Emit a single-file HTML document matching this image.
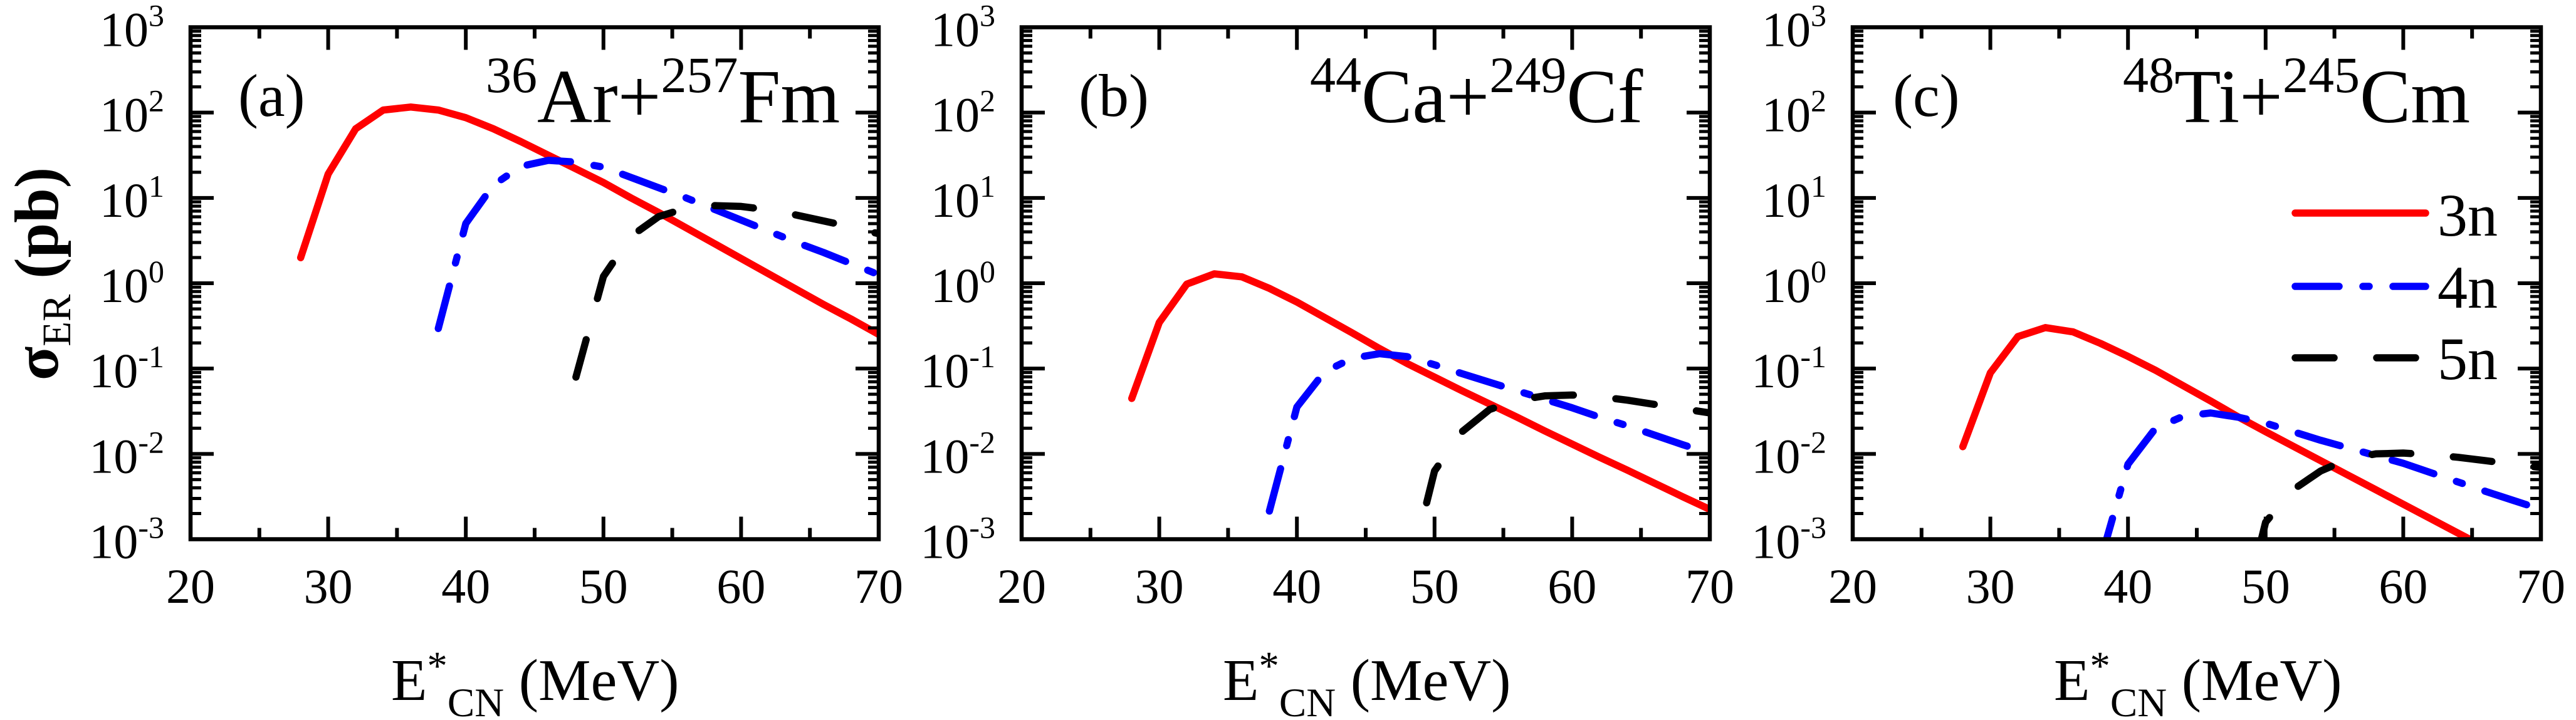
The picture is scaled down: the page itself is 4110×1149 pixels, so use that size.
<!DOCTYPE html>
<html><head><meta charset="utf-8"><style>
html,body{margin:0;padding:0;background:#fff;}
svg{display:block;}
svg text, svg tspan{font-family:"Liberation Serif","Times New Roman",serif;fill:#000;}
</style></head><body>
<svg xmlns="http://www.w3.org/2000/svg" width="4110" height="1149" viewBox="0 0 4110 1149" font-family="Liberation Serif, serif">
<rect x="0" y="0" width="4110" height="1149" fill="#fff"/>
<defs>
<clipPath id="pc"><rect x="0" y="43.5" width="1098" height="817"/></clipPath>
<g id="ax">
<rect x="0" y="43.5" width="1098" height="817" fill="none" stroke="#000" stroke-width="6.5"/>
<path fill="none" stroke="#000" stroke-width="6" d="M0 179.67h37M1061 179.67h37M0 315.84h37M1061 315.84h37M0 452.01h37M1061 452.01h37M0 588.18h37M1061 588.18h37M0 724.35h37M1061 724.35h37
M219.6 860.5v-36M439.2 860.5v-36M658.8 860.5v-36M878.4 860.5v-36M219.6 43.5v36M439.2 43.5v36M658.8 43.5v36M878.4 43.5v36
M109.8 860.5v-18M329.4 860.5v-18M549 860.5v-18M768.6 860.5v-18M988.2 860.5v-18M109.8 43.5v18M329.4 43.5v18M549 43.5v18M768.6 43.5v18M988.2 43.5v18"/>
<path fill="none" stroke="#000" stroke-width="5" d="
M0 819.53h17M1081 819.53h17M0 795.55h17M1081 795.55h17M0 778.54h17M1081 778.54h17M0 765.34h17M1081 765.34h17M0 754.56h17M1081 754.56h17M0 745.44h17M1081 745.44h17M0 737.55h17M1081 737.55h17M0 730.58h17M1081 730.58h17
M0 683.36h17M1081 683.36h17M0 659.38h17M1081 659.38h17M0 642.37h17M1081 642.37h17M0 629.17h17M1081 629.17h17M0 618.39h17M1081 618.39h17M0 609.27h17M1081 609.27h17M0 601.38h17M1081 601.38h17M0 594.41h17M1081 594.41h17
M0 547.19h17M1081 547.19h17M0 523.21h17M1081 523.21h17M0 506.2h17M1081 506.2h17M0 493h17M1081 493h17M0 482.22h17M1081 482.22h17M0 473.1h17M1081 473.1h17M0 465.21h17M1081 465.21h17M0 458.24h17M1081 458.24h17
M0 411.02h17M1081 411.02h17M0 387.04h17M1081 387.04h17M0 370.03h17M1081 370.03h17M0 356.83h17M1081 356.83h17M0 346.05h17M1081 346.05h17M0 336.93h17M1081 336.93h17M0 329.04h17M1081 329.04h17M0 322.07h17M1081 322.07h17
M0 274.85h17M1081 274.85h17M0 250.87h17M1081 250.87h17M0 233.86h17M1081 233.86h17M0 220.66h17M1081 220.66h17M0 209.88h17M1081 209.88h17M0 200.76h17M1081 200.76h17M0 192.87h17M1081 192.87h17M0 185.9h17M1081 185.9h17
M0 138.68h17M1081 138.68h17M0 114.7h17M1081 114.7h17M0 97.69h17M1081 97.69h17M0 84.49h17M1081 84.49h17M0 73.71h17M1081 73.71h17M0 64.59h17M1081 64.59h17M0 56.7h17M1081 56.7h17M0 49.73h17M1081 49.73h17"/>
</g>
</defs>

<!-- ===== Panel (a) ===== -->
<g transform="translate(304,0)">
<g clip-path="url(#pc)" fill="none" stroke-width="11.5" stroke-linejoin="round">
<path stroke="#ff0000" stroke-linecap="round" d="M175.7,411.2 L219.6,277.7 L263.5,205.5 L307.4,175.6 L351.4,170.8 L395.3,175.6 L439.2,187.8 L483.1,205.5 L527,226 L571,247.8 L614.9,269.5 L658.8,291.3 L702.7,315.8 L746.6,339 L790.6,363.5 L834.5,388 L878.4,412.5 L922.3,437 L966.2,461.5 L1010.2,486 L1054.1,509.2 L1098,533.7"/>
<path stroke="#0000ff" stroke-linecap="round" stroke-dasharray="70 38 10 38" d="M395.3,524.2 L439.2,356.7 L483.1,295.4 L527,265.4 L571,255.9 L614.9,258.6 L658.8,266.8 L702.7,283.1 L746.6,299.5 L790.6,315.8 L834.5,333.5 L878.4,351.2 L922.3,368.9 L966.2,386.6 L1010.2,403 L1054.1,420.7 L1098,438.4"/>
<path stroke="#000" stroke-linecap="round" stroke-dasharray="62 68" d="M614.9,601.8 L658.8,441.1 L702.7,377.1 L746.6,345.8 L790.6,332.2 L834.5,328.1 L878.4,329.4 L922.3,334.9 L966.2,343.1 L1010.2,352.6 L1054.1,362.1 L1098,373"/>
</g>
<use href="#ax"/>
<text x="76" y="185" font-size="96" font-family="Liberation Serif, serif">(a)</text>
<text x="471" y="195" font-size="122" font-family="Liberation Serif, serif"><tspan font-size="82" dy="-48">36</tspan><tspan dy="48">Ar+</tspan><tspan font-size="82" dy="-48">257</tspan><tspan dy="48">Fm</tspan></text>
<g font-size="78" text-anchor="end" font-family="Liberation Serif, serif">
<text x="-42" y="73.5">10<tspan font-size="50" dy="-32">3</tspan></text>
<text x="-42" y="209.7">10<tspan font-size="50" dy="-32">2</tspan></text>
<text x="-42" y="345.8">10<tspan font-size="50" dy="-32">1</tspan></text>
<text x="-42" y="482">10<tspan font-size="50" dy="-32">0</tspan></text>
<text x="-42" y="618.2">10<tspan font-size="50" dy="-32">-1</tspan></text>
<text x="-42" y="754.4">10<tspan font-size="50" dy="-32">-2</tspan></text>
<text x="-42" y="890.5">10<tspan font-size="50" dy="-32">-3</tspan></text>
</g>
<g font-size="78" text-anchor="middle" font-family="Liberation Serif, serif">
<text x="0" y="962">20</text><text x="219.6" y="962">30</text><text x="439.2" y="962">40</text><text x="658.8" y="962">50</text><text x="878.4" y="962">60</text><text x="1098" y="962">70</text>
</g>
<text x="320" y="1117" font-size="94" font-family="Liberation Serif, serif">E<tspan font-size="65" dy="-33">*</tspan><tspan font-size="65" dy="59">CN</tspan><tspan dy="-26"> (MeV)</tspan></text>
</g>

<!-- y axis title -->
<text transform="translate(92,437) rotate(-90)" text-anchor="middle" font-size="100" font-weight="bold" font-family="Liberation Serif, serif">σ<tspan font-size="65" font-weight="normal" dy="20">ER</tspan><tspan dy="-20"> (pb)</tspan></text>

<!-- ===== Panel (b) ===== -->
<g transform="translate(1630,0)">
<g clip-path="url(#pc)" fill="none" stroke-width="11.5" stroke-linejoin="round">
<path stroke="#ff0000" stroke-linecap="round" d="M175.7,635.8 L219.6,514.6 L263.5,453.4 L307.4,437 L351.4,441.8 L395.3,460.2 L439.2,482 L483.1,506.5 L527,531 L571,556.2 L614.9,580 L658.8,601.8 L702.7,623.6 L746.6,644.7 L790.6,665.8 L834.5,687.6 L878.4,708.7 L922.3,729.8 L966.2,750.2 L1010.2,771.3 L1054.1,792.4 L1098,812.9"/>
<path stroke="#0000ff" stroke-linecap="round" stroke-dasharray="70 38 10 38" d="M395.3,815.6 L439.2,649.5 L483.1,593.6 L527,571.8 L571,564.4 L614.9,569.1 L658.8,582.1 L702.7,596.3 L746.6,610 L790.6,623.6 L834.5,637.2 L878.4,650.8 L922.3,665.8 L966.2,679.4 L1010.2,694.4 L1054.1,709.4 L1098,723.7"/>
<path stroke="#000" stroke-linecap="round" stroke-dasharray="62 68" d="M614.9,928.6 L658.8,751.6 L702.7,688.9 L746.6,653.5 L790.6,638.6 L834.5,631.8 L878.4,630.4 L922.3,633.1 L966.2,638.6 L1010.2,645.4 L1054.1,652.2 L1098,659"/>
</g>
<use href="#ax"/>
<text x="91" y="185" font-size="96" font-family="Liberation Serif, serif">(b)</text>
<text x="460" y="195" font-size="122" font-family="Liberation Serif, serif"><tspan font-size="82" dy="-48">44</tspan><tspan dy="48">Ca+</tspan><tspan font-size="82" dy="-48">249</tspan><tspan dy="48">Cf</tspan></text>
<g font-size="78" text-anchor="end" font-family="Liberation Serif, serif">
<text x="-42" y="73.5">10<tspan font-size="50" dy="-32">3</tspan></text>
<text x="-42" y="209.7">10<tspan font-size="50" dy="-32">2</tspan></text>
<text x="-42" y="345.8">10<tspan font-size="50" dy="-32">1</tspan></text>
<text x="-42" y="482">10<tspan font-size="50" dy="-32">0</tspan></text>
<text x="-42" y="618.2">10<tspan font-size="50" dy="-32">-1</tspan></text>
<text x="-42" y="754.4">10<tspan font-size="50" dy="-32">-2</tspan></text>
<text x="-42" y="890.5">10<tspan font-size="50" dy="-32">-3</tspan></text>
</g>
<g font-size="78" text-anchor="middle" font-family="Liberation Serif, serif">
<text x="0" y="962">20</text><text x="219.6" y="962">30</text><text x="439.2" y="962">40</text><text x="658.8" y="962">50</text><text x="878.4" y="962">60</text><text x="1098" y="962">70</text>
</g>
<text x="321" y="1117" font-size="94" font-family="Liberation Serif, serif">E<tspan font-size="65" dy="-33">*</tspan><tspan font-size="65" dy="59">CN</tspan><tspan dy="-26"> (MeV)</tspan></text>
</g>

<!-- ===== Panel (c) ===== -->
<g transform="translate(2956,0)">
<g clip-path="url(#pc)" fill="none" stroke-width="11.5" stroke-linejoin="round">
<path stroke="#ff0000" stroke-linecap="round" d="M175.7,712.8 L219.6,595 L263.5,537.1 L307.4,522.8 L351.4,529.6 L395.3,548 L439.2,568.7 L483.1,590.9 L527,615.4 L571,639.9 L614.9,665.2 L658.8,688.9 L702.7,712.1 L746.6,735.2 L790.6,758.4 L834.5,781.5 L878.4,804.7 L922.3,827.8 L966.2,851 L1010.2,874.1 L1054.1,897.3 L1098,920.4"/>
<path stroke="#0000ff" stroke-linecap="round" stroke-dasharray="70 38 10 38" d="M395.3,894.6 L439.2,740.7 L483.1,683.5 L527,664.4 L571,659 L614.9,665.8 L658.8,675.3 L702.7,688.9 L746.6,702.6 L790.6,714.8 L834.5,727.1 L878.4,739.3 L922.3,754.3 L966.2,769.3 L1010.2,784.3 L1054.1,798.6 L1098,812.9"/>
<path stroke="#000" stroke-linecap="round" stroke-dasharray="62 68" d="M614.9,1010.3 L658.8,833.3 L702.7,781.5 L746.6,751.6 L790.6,732.5 L834.5,724.3 L878.4,723 L922.3,725.7 L966.2,729.8 L1010.2,735.2 L1054.1,740.7 L1098,746.1"/>
</g>
<use href="#ax"/>
<text x="64" y="185" font-size="96" font-family="Liberation Serif, serif">(c)</text>
<text x="431" y="195" font-size="122" font-family="Liberation Serif, serif"><tspan font-size="82" dy="-48">48</tspan><tspan dy="48">Ti+</tspan><tspan font-size="82" dy="-48">245</tspan><tspan dy="48">Cm</tspan></text>
<!-- legend -->
<g fill="none" stroke-width="11.5" stroke-linecap="round">
<line x1="706" y1="340" x2="914" y2="340" stroke="#ff0000"/>
<line x1="706" y1="457" x2="914" y2="457" stroke="#0000ff" stroke-dasharray="70 38 10 38"/>
<line x1="706" y1="571" x2="914" y2="571" stroke="#000" stroke-dasharray="62 68"/>
</g>
<g font-size="96" font-family="Liberation Serif, serif">
<text x="933" y="376">3n</text>
<text x="933" y="491">4n</text>
<text x="933" y="605">5n</text>
</g>
<g font-size="78" text-anchor="end" font-family="Liberation Serif, serif">
<text x="-42" y="73.5">10<tspan font-size="50" dy="-32">3</tspan></text>
<text x="-42" y="209.7">10<tspan font-size="50" dy="-32">2</tspan></text>
<text x="-42" y="345.8">10<tspan font-size="50" dy="-32">1</tspan></text>
<text x="-42" y="482">10<tspan font-size="50" dy="-32">0</tspan></text>
<text x="-42" y="618.2">10<tspan font-size="50" dy="-32">-1</tspan></text>
<text x="-42" y="754.4">10<tspan font-size="50" dy="-32">-2</tspan></text>
<text x="-42" y="890.5">10<tspan font-size="50" dy="-32">-3</tspan></text>
</g>
<g font-size="78" text-anchor="middle" font-family="Liberation Serif, serif">
<text x="0" y="962">20</text><text x="219.6" y="962">30</text><text x="439.2" y="962">40</text><text x="658.8" y="962">50</text><text x="878.4" y="962">60</text><text x="1098" y="962">70</text>
</g>
<text x="321" y="1117" font-size="94" font-family="Liberation Serif, serif">E<tspan font-size="65" dy="-33">*</tspan><tspan font-size="65" dy="59">CN</tspan><tspan dy="-26"> (MeV)</tspan></text>
</g>
</svg>
</body></html>
